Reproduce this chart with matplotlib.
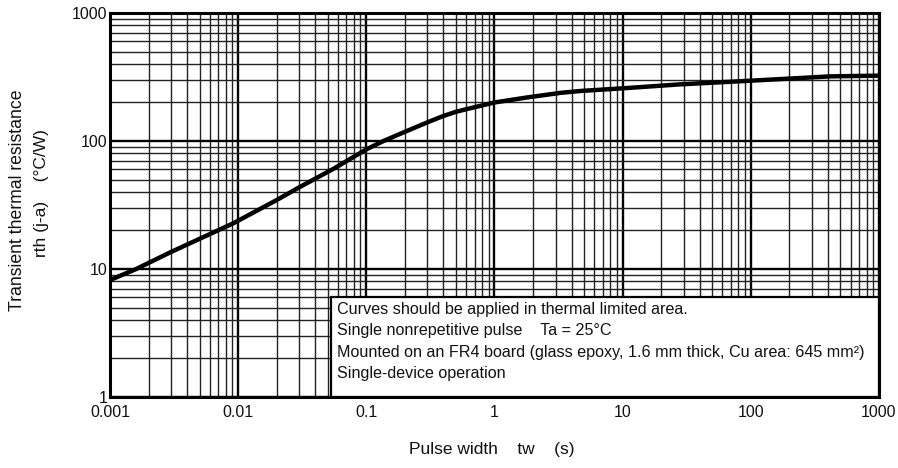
import numpy as np
import matplotlib
matplotlib.use('Agg')
import matplotlib.pyplot as plt
from matplotlib.ticker import FixedLocator, LogLocator, NullFormatter
from matplotlib.patches import Rectangle

plt.rcParams['font.family'] = ['Liberation Sans', 'DejaVu Sans']

# curve: pulse width (s) vs rth(j-a) (degC/W)
pulse_width = [0.001, 0.0016, 0.003, 0.0092, 0.02, 0.03, 0.056, 0.1, 0.136,
               0.2, 0.3, 0.4, 0.5, 0.6, 1, 1.8, 3.3, 4.7, 10, 28, 100, 420, 1000]
rth = [8.2, 10, 13.6, 22.8, 34.6, 43.5, 61, 86, 100,
       118, 140, 157, 169, 177, 200, 219, 238, 246, 258, 277, 296, 320, 324]

x_ticks = [0.001, 0.01, 0.1, 1, 10, 100, 1000]
x_labels = ['0.001', '0.01', '0.1', '1', '10', '100', '1000']
y_ticks = [1, 10, 100, 1000]
y_labels = ['1', '10', '100', '1000']

notes = ['Curves should be applied in thermal limited area.',
         'Single nonrepetitive pulse    Ta = 25°C',
         'Mounted on an FR4 board (glass epoxy, 1.6 mm thick, Cu area: 645 mm²)',
         'Single-device operation']
note_box = (0.053, 1, 1000, 6)  # x0, y0, x1, y1 in data units

fig = plt.figure(figsize=(8.98, 4.68), dpi=100)
ax = fig.add_axes([0.1225, 0.1517, 0.8563, 0.8205])
ax.set_xscale('log')
ax.set_yscale('log')
ax.set_xlim(0.001, 1000)
ax.set_ylim(1, 1000)

ax.xaxis.set_major_locator(FixedLocator(x_ticks))
ax.yaxis.set_major_locator(FixedLocator(y_ticks))
ax.set_xticklabels(x_labels)
ax.set_yticklabels(y_labels)
ax.xaxis.set_minor_locator(LogLocator(base=10, subs=np.arange(2, 10), numticks=50))
ax.yaxis.set_minor_locator(LogLocator(base=10, subs=np.arange(2, 10), numticks=50))
ax.xaxis.set_minor_formatter(NullFormatter())
ax.yaxis.set_minor_formatter(NullFormatter())
ax.tick_params(which='both', length=0, labelsize=11.5, colors='#111111')
ax.tick_params(axis='x', pad=6)
ax.tick_params(axis='y', pad=2)

ax.grid(which='major', color='black', lw=1.7)
ax.grid(which='minor', color='#222222', lw=1.0)
ax.set_axisbelow(True)
for s in ax.spines.values():
    s.set_linewidth(2.2)
    s.set_zorder(5)

ax.plot(pulse_width, rth, color='black', lw=3.2, solid_joinstyle='round',
        solid_capstyle='butt', zorder=3)

x0, y0, x1, y1 = note_box
ax.add_patch(Rectangle((x0, y0), x1 - x0, y1 - y0, facecolor='white',
                       edgecolor='black', lw=1.6, zorder=4))
for i, line in enumerate(notes):
    ax.text(0.295, 0.2266 - i * 0.0547, line, transform=ax.transAxes,
            fontsize=11.6, va='center', ha='left', color='#111111', zorder=6)

fig.text(0.548, 0.0385, 'Pulse width    tw    (s)', fontsize=12.5,
         ha='center', va='center', color='#111111')
fig.text(0.020, 0.573, 'Transient thermal resistance', fontsize=12.7,
         rotation=90, ha='center', va='center', color='#111111')
fig.text(0.046, 0.588, 'rth (j-a)    (°C/W)', fontsize=12.5,
         rotation=90, ha='center', va='center', color='#111111')

fig.savefig('out.png', dpi=100, facecolor='white')
